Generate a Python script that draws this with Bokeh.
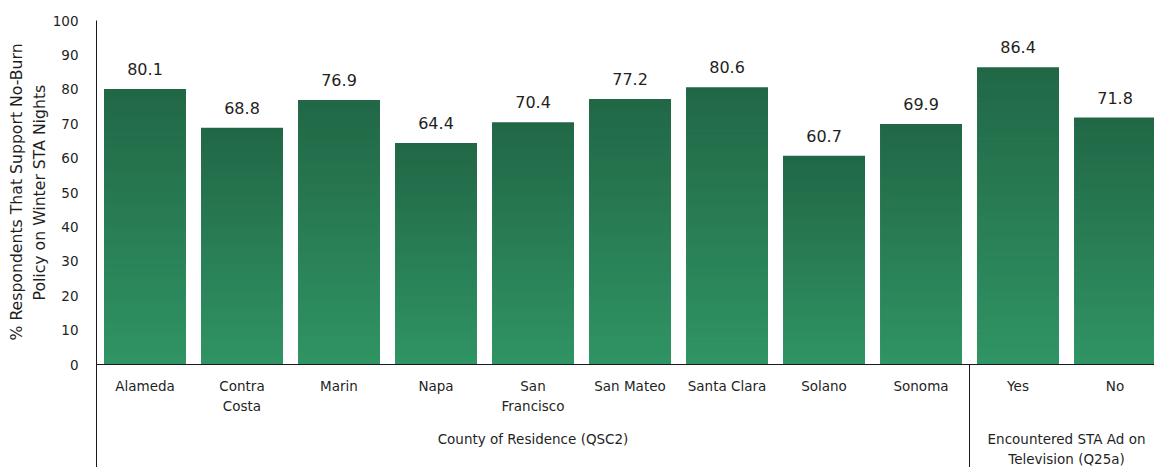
import numpy as np
from bokeh.plotting import figure
from bokeh.models import Range1d, FixedTicker, Title
from bokeh.embed import file_html
from bokeh.resources import INLINE
from bokeh.core.properties import value

# ---------------- data ----------------
categories = ["Alameda", "Contra\nCosta", "Marin", "Napa", "San\nFrancisco",
              "San Mateo", "Santa Clara", "Solano", "Sonoma", "Yes", "No"]
values = [80.1, 68.8, 76.9, 64.4, 70.4, 77.2, 80.6, 60.7, 69.9, 86.4, 71.8]
value_labels = ["80.1", "68.8", "76.9", "64.4", "70.4", "77.2", "80.6", "60.7", "69.9", "86.4", "71.8"]
groups = ["County of Residence (QSC2)", "Encountered STA Ad on\nTelevision (Q25a)"]
group_sizes = [9, 2]
y_ticks = [0, 10, 20, 30, 40, 50, 60, 70, 80, 90, 100]
y_title_lines = ["% Respondents That Support No-Burn", "Policy on Winter STA Nights"]

# ---------------- layout ----------------
FONT = "DejaVu Sans"
TXT = "#1f1f1f"
W, H = 1154, 467
border_left, border_top = 96, 20
frame_h = H - border_top
y_min = -29.94
y_max = 100
ppu = frame_h / (y_max - y_min)           # pixels per y unit
x_max = 10.907
bar_w = 0.845

p = figure(width=W, height=H, x_range=Range1d(0, x_max), y_range=Range1d(y_min, y_max),
           output_backend="svg", toolbar_location=None,
           min_border_left=border_left, min_border_right=0,
           min_border_top=border_top, min_border_bottom=0)
p.outline_line_color = None
p.grid.visible = False
p.xaxis.visible = False
p.background_fill_color = "white"
p.border_fill_color = "white"

ya = p.yaxis[0]
ya.ticker = FixedTicker(ticks=y_ticks)
ya.major_tick_line_color = None
ya.minor_tick_line_color = None
ya.axis_line_color = "#1a1a1a"
ya.axis_line_width = 1
ya.major_label_text_font = FONT
ya.major_label_text_font_size = "13.5px"
ya.major_label_text_color = TXT
ya.major_label_standoff = 12

# ---------------- gradient bars (slices) ----------------
top_col = np.array([0x21, 0x67, 0x46])
bot_col = np.array([0x30, 0x94, 0x64])
N = 60
L, R, B, T, C = [], [], [], [], []
centers = [i + 0.5 for i in range(len(values))]
for cx, v in zip(centers, values):
    for k in range(N):
        t = (k + 0.5) / N
        c = bot_col + (top_col - bot_col) * t
        L.append(cx - bar_w / 2)
        R.append(cx + bar_w / 2)
        B.append(v * k / N)
        T.append(min(v, v * (k + 1.4) / N))
        C.append("#%02x%02x%02x" % tuple(int(round(x)) for x in c))
p.quad(left=L, right=R, bottom=B, top=T, fill_color=C, line_color=None)

# value labels
p.text(x=centers, y=[v + 20 / ppu for v in values], text=value_labels,
       text_font=value(FONT), text_font_size="16px", text_color=TXT,
       text_align="center", text_baseline="middle")

# x axis line and group dividers
p.segment(x0=[0], y0=[0], x1=[x_max], y1=[0], line_color="#1a1a1a", line_width=1.2)
bounds = np.cumsum(group_sizes)
p.segment(x0=list(bounds[:-1]), y0=[0] * (len(bounds) - 1),
          x1=list(bounds[:-1]), y1=[y_min] * (len(bounds) - 1),
          line_color="#1a1a1a", line_width=1)

# category labels
p.text(x=centers, y=[-13 / ppu] * len(centers), text=categories,
       text_font=value(FONT), text_font_size="13.5px", text_color=TXT,
       text_align="center", text_baseline="top", text_line_height=1.3)

# group labels
starts = np.concatenate([[0], bounds[:-1]])
gcent = [(s + e) / 2 for s, e in zip(starts, bounds)]
p.text(x=gcent, y=[-66 / ppu] * len(gcent), text=groups,
       text_font=value(FONT), text_font_size="13.5px", text_color=TXT,
       text_align="center", text_baseline="top", text_line_height=1.3)

# y axis title: two lines, each centred on the 0-100 span (offset from the frame bottom)
title_offsets = [127, 167]
for line, off in reversed(list(zip(y_title_lines, title_offsets))):
    p.add_layout(Title(text=line, align="left", offset=off,
                       text_font=FONT, text_font_size="15.7px", text_font_style="normal",
                       text_color=TXT, standoff=2), "left")

open("out.html", "w").write(file_html(p, INLINE))
